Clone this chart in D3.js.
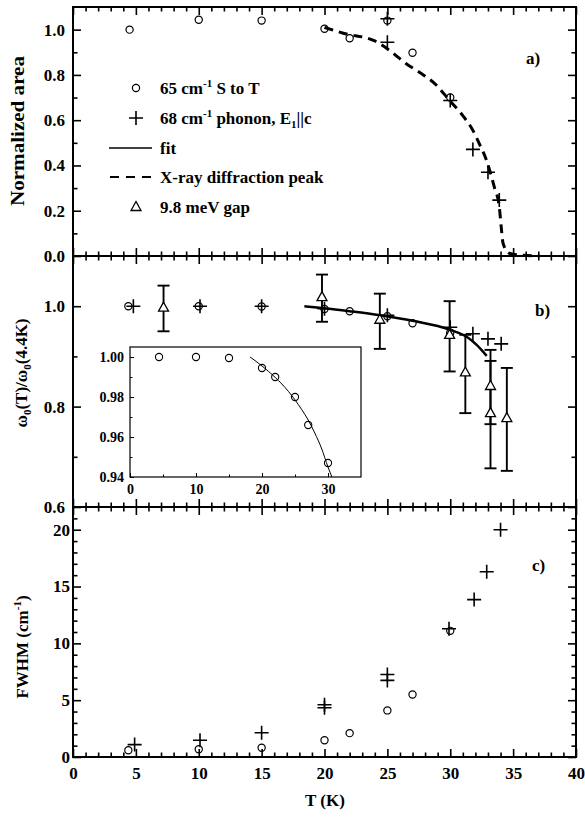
<!DOCTYPE html>
<html><head><meta charset="utf-8">
<script src="https://cdn.jsdelivr.net/npm/d3@7"></script>
<style>
body{margin:0;background:#fff}
svg{display:block}
text{font-family:"Liberation Serif","Times New Roman",serif;font-weight:bold;fill:#000}
</style>
</head><body><svg id="c" width="585" height="821"></svg>
<script>
// ---------- data ----------
// shared x ticks
const xMajorTicks = [0, 5, 10, 15, 20, 25, 30, 35, 40];
const xMinorTicks = d3.range(1, 40).filter(d => d % 5 !== 0);

// panel a: normalized area
const aTicksMajor = [0, 0.2, 0.4, 0.6, 0.8, 1.0];
const aTicksMinor = [0.1, 0.3, 0.5, 0.7, 0.9];
const aCircleT = [4.5, 10, 15, 20, 22, 25, 27, 30];
const aCircleV = [1.0, 1.044, 1.04, 1.004, 0.962, 1.04, 0.898, 0.70];
const aPlusT = [25, 25, 30, 31.8, 33, 33.9];
const aPlusV = [1.048, 0.944, 0.687, 0.471, 0.37, 0.247];
const xrayT = [20.0, 21.5, 24, 25.2, 26.5, 27.6, 28.8, 29.95, 31.0, 31.8, 32.3, 32.9, 33.5, 33.9, 34.05, 34.2, 34.7, 35.5, 37.1];
const xrayV = [1.01, 0.984, 0.95, 0.907, 0.849, 0.81, 0.76, 0.687, 0.62, 0.555, 0.497, 0.42, 0.305, 0.217, 0.13, 0.056, 0.012, 0.004, 0];

// panel b: w0(T)/w0(4.4K)
const bTicksMajor = [0.6, 0.8, 1.0];
const bTicksMinor = [0.7, 0.9];
const bCircleT = [4.4, 10, 15, 20, 22, 25, 27, 30];
const bCircleV = [1.0, 1.0, 0.9995, 0.9945, 0.99, 0.98, 0.966, 0.947];
const bPlusT = [4.8, 10.1, 15, 20, 25, 30, 31.8, 33, 34.05];
const bPlusV = [1.0, 1.0, 1.0, 0.995, 0.982, 0.958, 0.945, 0.935, 0.925];
const gapT  = [7.2, 19.8, 24.4, 29.95, 31.2, 33.2, 33.2, 34.5];
const gapV  = [0.997, 1.018, 0.973, 0.943, 0.868, 0.841, 0.787, 0.777];
const gapLo = [0.95, 0.969, 0.915, 0.87, 0.787, 0.765, 0.677, 0.672];
const gapHi = [1.041, 1.063, 1.025, 1.01, 0.943, 0.913, 0.891, 0.877];
const fitT = [18.4, 20, 22, 24.4, 27, 30, 31.3, 32.1, 32.9];
const fitV = [1.0, 0.996, 0.99, 0.982, 0.971, 0.953, 0.939, 0.923, 0.901];

// inset
const insetXTicksMajor = [0, 10, 20, 30];
const insetXTicksMinor = [5, 15, 25];
const insetYTicksMajor = [0.94, 0.96, 0.98, 1.00];
const insetYTicksMinor = [0.95, 0.97, 0.99];
const insetFitT = [18.2, 20, 22, 24, 26, 27, 28, 29, 30, 30.6];
const insetFitV = [1.0, 0.9955, 0.9898, 0.9828, 0.9738, 0.9685, 0.962, 0.9545, 0.945, 0.94];

// panel c: FWHM
const cTicksMajor = [0, 5, 10, 15, 20];
const cTicksMinor = d3.range(1, 22).filter(d => d % 5 !== 0);
const cCircleT = [4.4, 10, 15, 20, 22, 25, 27, 30];
const cCircleV = [0.59, 0.68, 0.82, 1.47, 2.1, 4.1, 5.5, 11.1];
const cPlusT = [4.9, 10.1, 15, 20, 20, 25, 25, 29.9, 31.9, 32.9, 34];
const cPlusV = [1.09, 1.47, 2.14, 4.6, 4.34, 7.26, 6.74, 11.28, 13.85, 16.3, 20.0];

// ---------- drawing ----------
const svg = d3.select("#c");
const X0 = 73, X1 = 576;
const x = d3.scaleLinear().domain([0, 40]).range([X0, X1]);

const yA = d3.scaleLinear().domain([0, 1.1]).range([256, 7]);
const yB = d3.scaleLinear().domain([0.6, 1.1]).range([507, 256]);
const yC = d3.scaleLinear().domain([0, 22]).range([757, 507]);

const panels = [
  {y: yA, major: aTicksMajor, minor: aTicksMinor, fmt: d3.format(".1f"), pad: 8, xlabels: false},
  {y: yB, major: bTicksMajor, minor: bTicksMinor, fmt: d3.format(".1f"), pad: 8, xlabels: false},
  {y: yC, major: cTicksMajor, minor: cTicksMinor, fmt: d3.format("d"), pad: 3, xlabels: true}
];

const MAJ = 8, MIN = 4.5;
function styleAxis(g, fs) {
  g.select(".domain").remove();
  g.selectAll(".tick line").attr("stroke", "#000").attr("stroke-width", 1.6);
  g.selectAll(".tick text").attr("font-size", fs).attr("font-family", '"Liberation Serif",serif').attr("font-weight", "bold").attr("fill", "#000");
}

panels.forEach(p => {
  const [yb, yt] = p.y.range();
  // left
  svg.append("g").attr("transform", `translate(${X0},0)`)
    .call(d3.axisLeft(p.y).tickValues(p.major).tickSize(-MAJ).tickPadding(p.pad).tickFormat(p.fmt))
    .call(g => styleAxis(g, 17));
  svg.append("g").attr("transform", `translate(${X0},0)`)
    .call(d3.axisLeft(p.y).tickValues(p.minor).tickSize(-MIN).tickFormat(""))
    .call(g => styleAxis(g, 17));
  // right
  svg.append("g").attr("transform", `translate(${X1},0)`)
    .call(d3.axisRight(p.y).tickValues(p.major).tickSize(-MAJ).tickFormat(""))
    .call(g => styleAxis(g, 17));
  svg.append("g").attr("transform", `translate(${X1},0)`)
    .call(d3.axisRight(p.y).tickValues(p.minor).tickSize(-MIN).tickFormat(""))
    .call(g => styleAxis(g, 17));
  // top
  svg.append("g").attr("transform", `translate(0,${yt})`)
    .call(d3.axisTop(x).tickValues(xMajorTicks).tickSize(-MAJ).tickFormat(""))
    .call(g => styleAxis(g, 17));
  svg.append("g").attr("transform", `translate(0,${yt})`)
    .call(d3.axisTop(x).tickValues(xMinorTicks).tickSize(-MIN).tickFormat(""))
    .call(g => styleAxis(g, 17));
  // bottom
  svg.append("g").attr("transform", `translate(0,${yb})`)
    .call(d3.axisBottom(x).tickValues(xMajorTicks).tickSize(-MAJ).tickPadding(10).tickFormat(p.xlabels ? d3.format("d") : ""))
    .call(g => styleAxis(g, 17));
  svg.append("g").attr("transform", `translate(0,${yb})`)
    .call(d3.axisBottom(x).tickValues(xMinorTicks).tickSize(-MIN).tickFormat(""))
    .call(g => styleAxis(g, 17));
  // frame
  svg.append("rect").attr("x", X0).attr("y", yt).attr("width", X1 - X0).attr("height", yb - yt)
    .attr("fill", "none").attr("stroke", "#000").attr("stroke-width", 2);
});

// marker helpers
const plusPath = "M-7,0H7M0,-7V7";
const triPath = "M0,-5.5L5,3.5L-5,3.5Z";
function circles(ts, vs, ys, r = 3.6) {
  svg.append("g").selectAll("circle").data(ts).join("circle")
    .attr("cx", (d) => x(d)).attr("cy", (d, i) => ys(vs[i])).attr("r", r)
    .attr("fill", "none").attr("stroke", "#000").attr("stroke-width", 1.2);
}
function pluses(ts, vs, ys) {
  svg.append("g").selectAll("path").data(ts).join("path")
    .attr("transform", (d, i) => `translate(${x(d)},${ys(vs[i])})`)
    .attr("d", plusPath).attr("fill", "none").attr("stroke", "#000").attr("stroke-width", 1.6);
}

// ---- panel a ----
circles(aCircleT, aCircleV, yA);
pluses(aPlusT, aPlusV, yA);
svg.append("path").datum(xrayT.map((t, i) => [t, xrayV[i]]))
  .attr("d", d3.line().x(d => x(d[0])).y(d => yA(d[1])).curve(d3.curveMonotoneX))
  .attr("fill", "none").attr("stroke", "#000").attr("stroke-width", 3).attr("stroke-dasharray", "9,6");

// legend
const lg = svg.append("g");
const LX = 136, TX = 160;
const rows = [88, 118, 148, 177, 207];
lg.append("circle").attr("cx", LX).attr("cy", rows[0]).attr("r", 3.6).attr("fill", "none").attr("stroke", "#000").attr("stroke-width", 1.2);
lg.append("path").attr("transform", `translate(${LX},${rows[1]})`).attr("d", plusPath).attr("stroke", "#000").attr("stroke-width", 1.6);
lg.append("line").attr("x1", 109).attr("x2", 152).attr("y1", rows[2]).attr("y2", rows[2]).attr("stroke", "#000").attr("stroke-width", 1.5);
lg.append("line").attr("x1", 110).attr("x2", 154).attr("y1", rows[3]).attr("y2", rows[3]).attr("stroke", "#000").attr("stroke-width", 2).attr("stroke-dasharray", "9,7");
lg.append("path").attr("transform", `translate(${LX},${rows[4]})`).attr("d", triPath).attr("fill", "white").attr("stroke", "#000").attr("stroke-width", 1.3);

function ltext(y) { return lg.append("text").attr("x", TX).attr("y", y + 6).attr("font-size", 17); }
let t = ltext(rows[0]);
t.append("tspan").text("65 cm");
t.append("tspan").attr("dy", -7).attr("font-size", 11).text("-1");
t.append("tspan").attr("dy", 7).text(" S to T");
t = ltext(rows[1]);
t.append("tspan").text("68 cm");
t.append("tspan").attr("dy", -7).attr("font-size", 11).text("-1");
t.append("tspan").attr("dy", 7).text(" phonon, E");
t.append("tspan").attr("dy", 4).attr("font-size", 11).text("1");
t.append("tspan").attr("dy", -4).text("||c");
ltext(rows[2]).text("fit");
ltext(rows[3]).text("X-ray diffraction peak");
ltext(rows[4]).text("9.8 meV gap");

svg.append("text").attr("x", 526).attr("y", 64).attr("font-size", 17).text("a)");

// ---- panel b ----
// inset
const IX0 = 130, IX1 = 361, IY0 = 347, IY1 = 477;
const xi = d3.scaleLinear().domain([0, 35]).range([IX0, IX1]);
const yi = d3.scaleLinear().domain([0.94, 1.005]).range([IY1, IY0]);
svg.append("rect").attr("x", IX0).attr("y", IY0).attr("width", IX1 - IX0).attr("height", IY1 - IY0)
  .attr("fill", "white").attr("stroke", "#000").attr("stroke-width", 1.2);
function styleI(g) {
  g.select(".domain").remove();
  g.selectAll(".tick line").attr("stroke", "#000").attr("stroke-width", 1);
  g.selectAll(".tick text").attr("font-size", 14).attr("font-family", '"Liberation Serif",serif').attr("font-weight", "bold").attr("fill", "#000");
}
svg.append("g").attr("transform", `translate(${IX0},0)`)
  .call(d3.axisLeft(yi).tickValues(insetYTicksMajor).tickSize(-4).tickPadding(6).tickFormat(d3.format(".2f"))).call(styleI);
svg.append("g").attr("transform", `translate(${IX0},0)`)
  .call(d3.axisLeft(yi).tickValues(insetYTicksMinor).tickSize(-2.5).tickFormat("")).call(styleI);
svg.append("g").attr("transform", `translate(0,${IY1})`)
  .call(d3.axisBottom(xi).tickValues(insetXTicksMajor).tickSize(-4).tickPadding(7).tickFormat(d3.format("d"))).call(styleI);
svg.append("g").attr("transform", `translate(0,${IY1})`)
  .call(d3.axisBottom(xi).tickValues(insetXTicksMinor).tickSize(-2.5).tickFormat("")).call(styleI);
svg.append("g").selectAll("circle").data(bCircleT).join("circle")
  .attr("cx", d => xi(d)).attr("cy", (d, i) => yi(bCircleV[i])).attr("r", 3.6)
  .attr("fill", "none").attr("stroke", "#000").attr("stroke-width", 1.1);
svg.append("path").datum(insetFitT.map((t, i) => [t, insetFitV[i]]))
  .attr("d", d3.line().x(d => xi(d[0])).y(d => yi(d[1])).curve(d3.curveMonotoneX))
  .attr("fill", "none").attr("stroke", "#000").attr("stroke-width", 1);

// main panel b
circles(bCircleT, bCircleV, yB);
pluses(bPlusT, bPlusV, yB);
svg.append("path").datum(fitT.map((t, i) => [t, fitV[i]]))
  .attr("d", d3.line().x(d => x(d[0])).y(d => yB(d[1])).curve(d3.curveMonotoneX))
  .attr("fill", "none").attr("stroke", "#000").attr("stroke-width", 2.5);
const eb = svg.append("g").attr("stroke", "#000").attr("stroke-width", 1.9);
gapT.forEach((tt, i) => {
  const cx = x(tt);
  eb.append("line").attr("x1", cx).attr("x2", cx).attr("y1", yB(gapLo[i])).attr("y2", yB(gapHi[i]));
  eb.append("line").attr("x1", cx - 6).attr("x2", cx + 6).attr("y1", yB(gapLo[i])).attr("y2", yB(gapLo[i]));
  eb.append("line").attr("x1", cx - 6).attr("x2", cx + 6).attr("y1", yB(gapHi[i])).attr("y2", yB(gapHi[i]));
});
svg.append("g").selectAll("path").data(gapT).join("path")
  .attr("transform", (d, i) => `translate(${x(d)},${yB(gapV[i])})`)
  .attr("d", triPath).attr("fill", "white").attr("stroke", "#000").attr("stroke-width", 1.3);

svg.append("text").attr("x", 535).attr("y", 316).attr("font-size", 17).text("b)");

// ---- panel c ----
circles(cCircleT, cCircleV, yC);
pluses(cPlusT, cPlusV, yC);
svg.append("text").attr("x", 532).attr("y", 571).attr("font-size", 17).text("c)");

// ---- axis titles ----
svg.append("text").attr("x", 325).attr("y", 806).attr("text-anchor", "middle").attr("font-size", 17).text("T (K)");
svg.append("text").attr("transform", "translate(24,131) rotate(-90)").attr("text-anchor", "middle")
  .attr("font-size", 18).attr("textLength", 150).attr("lengthAdjust", "spacingAndGlyphs").text("Normalized area");
let w = svg.append("text").attr("transform", "translate(27,373) rotate(-90)").attr("text-anchor", "middle").attr("font-size", 17);
w.append("tspan").text("ω");
w.append("tspan").attr("dy", 4).attr("font-size", 11).text("0");
w.append("tspan").attr("dy", -4).text("(T)/ω");
w.append("tspan").attr("dy", 4).attr("font-size", 11).text("0");
w.append("tspan").attr("dy", -4).text("(4.4K)");
let f = svg.append("text").attr("transform", "translate(28,647) rotate(-90)").attr("text-anchor", "middle").attr("font-size", 17);
f.append("tspan").text("FWHM (cm");
f.append("tspan").attr("dy", -7).attr("font-size", 11).text("-1");
f.append("tspan").attr("dy", 7).text(")");
</script>
</body></html>
